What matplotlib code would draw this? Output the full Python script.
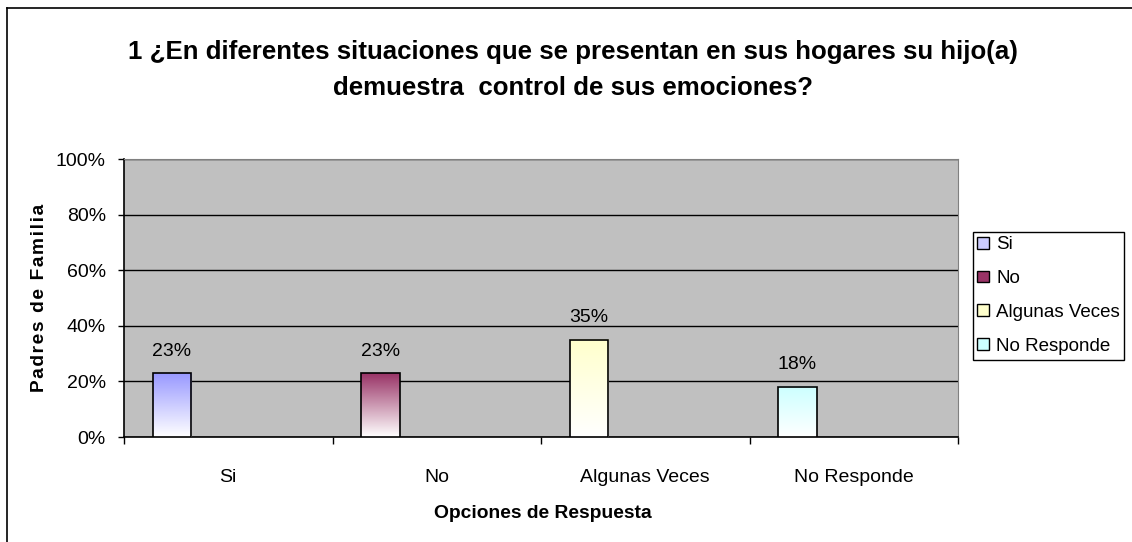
import numpy as np
import matplotlib.pyplot as plt
from matplotlib.lines import Line2D
from matplotlib.patches import Patch
from matplotlib.colors import to_rgb

# datos de la encuesta
categorias = ["Si", "No", "Algunas Veces", "No Responde"]
porcentajes = [23, 23, 35, 18]
etiquetas = ["23%", "23%", "35%", "18%"]
colores_top = ["#9999FF", "#993366", "#FFFFCC", "#CCFFFF"]
colores_leyenda = ["#CCCCFF", "#993366", "#FFFFCC", "#CCFFFF"]
yticks = [0, 20, 40, 60, 80, 100]

plt.rcParams['font.family'] = ['Liberation Sans', 'DejaVu Sans']

W, H = 1132, 542
fig = plt.figure(figsize=(W / 100, H / 100), dpi=100)
ax = fig.add_axes([124 / W, 1 - 437 / H, (958 - 124) / W, (437 - 159) / H])
ax.set_facecolor("#C0C0C0")

x = np.arange(len(categorias))
ancho = 0.183
desp = -0.27

bars = ax.bar(x + desp, porcentajes, width=ancho, facecolor='none',
              edgecolor='black', linewidth=1.2, zorder=4)

# degradado de color a blanco en cada barra
for b, c in zip(bars, colores_top):
    top = np.array(to_rgb(c))
    t = np.linspace(0, 1, 200)[:, None]
    grad = top * (1 - t) + np.ones(3) * t
    grad = grad[:, None, :]
    x0 = b.get_x()
    ax.imshow(grad, extent=(x0, x0 + b.get_width(), 0, b.get_height()),
              aspect='auto', origin='upper', zorder=3, interpolation='bilinear')

for xi, v, lab in zip(x, porcentajes, etiquetas):
    ax.text(xi + desp, v + 7.9, lab, ha='center', va='center', fontsize=14)

ax.set_xlim(-0.5, 3.5)
ax.set_ylim(0, 100)
ax.set_yticks(yticks)
ax.set_yticklabels(["%d%%" % v for v in yticks], fontsize=14)
ax.yaxis.grid(True, color='black', linewidth=1)
ax.set_axisbelow(True)

ax.set_xticks(np.arange(-0.5, 4, 1))
ax.set_xticklabels([])
ax.set_xticks(x, minor=True)
ax.set_xticklabels(categorias, minor=True, fontsize=14)
ax.tick_params(axis='x', which='minor', length=0, pad=23)
ax.tick_params(axis='x', which='major', direction='out', length=5, width=1)
ax.tick_params(axis='y', direction='out', length=4, width=1, pad=9)

ax.spines['top'].set_color('#808080')
ax.spines['right'].set_color('#808080')
ax.spines['left'].set_linewidth(1.2)
ax.spines['bottom'].set_linewidth(1.2)

handles = [Patch(facecolor=c, edgecolor='black', linewidth=1) for c in colores_leyenda]
leg = fig.legend(handles, categorias, loc='center',
                 bbox_to_anchor=((971 + 1126) / 2 / W, 1 - (227 + 364) / 2 / H),
                 fontsize=13.5, fancybox=False, edgecolor='black', framealpha=1,
                 handlelength=0.6, handleheight=0.6, handletextpad=0.4,
                 labelspacing=0.9, borderpad=0.25, borderaxespad=0)
leg.get_frame().set_linewidth(1)

fig.text(573 / W, 1 - 70 / H,
         "1 ¿En diferentes situaciones que se presentan en sus hogares su hijo(a)\n"
         "demuestra  control de sus emociones?",
         ha='center', va='center', fontsize=18.6, fontweight='bold', linespacing=1.58)
fig.text(543 / W, 1 - 514 / H, "Opciones de Respuesta", ha='center', va='center',
         fontsize=13.9, fontweight='bold')
fig.text(40 / W, 1 - 298 / H, "\u200a".join("Padres de Familia"), ha='center',
         va='center', rotation=90, fontsize=13.8, fontweight='bold')

# borde del área del gráfico
fig.add_artist(Line2D([7 / W, 7 / W], [0, 1 - 8 / H], color='black', lw=1.2,
                      transform=fig.transFigure))
fig.add_artist(Line2D([7 / W, 1], [1 - 8 / H, 1 - 8 / H], color='black', lw=1.2,
                      transform=fig.transFigure))

fig.savefig('out.png', dpi=100)
